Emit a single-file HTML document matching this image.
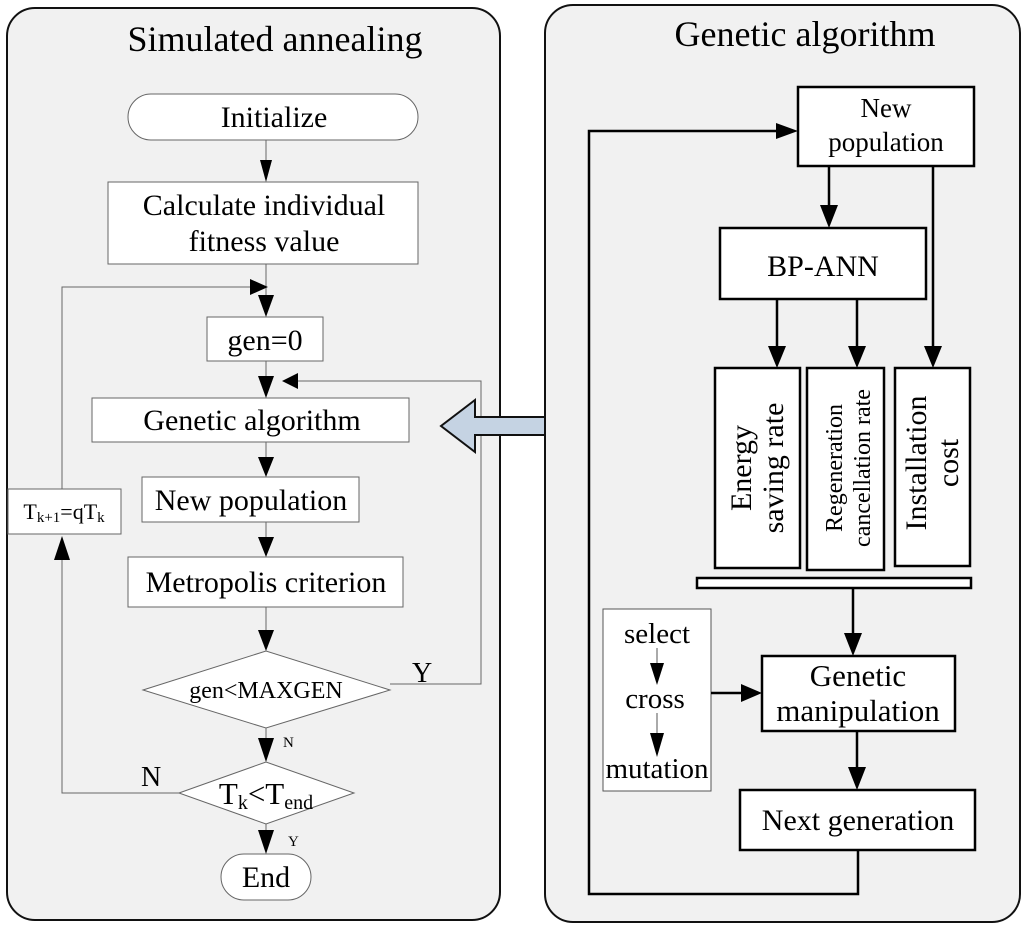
<!DOCTYPE html>
<html><head><meta charset="utf-8"><style>
html,body{margin:0;padding:0;background:#fff;}
svg{display:block;}
text{font-family:"Liberation Serif",serif;fill:#000;}
</style></head><body>
<svg width="1024" height="928" viewBox="0 0 1024 928" xmlns="http://www.w3.org/2000/svg">
<!-- panels -->
<rect x="7" y="8" width="493" height="912" rx="28" fill="#f1f1f1" stroke="#111" stroke-width="2"/>
<rect x="545" y="5" width="475" height="917" rx="28" fill="#f1f1f1" stroke="#111" stroke-width="2"/>
<text x="275" y="51" font-size="36" text-anchor="middle">Simulated annealing</text>
<text x="805" y="46" font-size="36" text-anchor="middle">Genetic algorithm</text>

<!-- LEFT -->
<g stroke="#666" stroke-width="1" fill="#fff">
<rect x="128" y="94" width="290" height="46" rx="23"/>
<rect x="108" y="182" width="310" height="82"/>
<rect x="207" y="317" width="116" height="44"/>
<rect x="92" y="398" width="317" height="44"/>
<rect x="142" y="477" width="217" height="45"/>
<rect x="128" y="557" width="275" height="50"/>
<polygon points="143,690 266,651 390,690 266,728"/>
<polygon points="179,793 266,762 354,793 266,824"/>
<rect x="221" y="854" width="90" height="46" rx="23"/>
<rect x="8" y="489" width="113" height="45"/>
</g>
<g stroke="#666" stroke-width="1" fill="none">
<line x1="266" y1="140" x2="266" y2="160"/>
<line x1="266" y1="264" x2="266" y2="295"/>
<polyline points="62,489 62,287 250,287"/>
<line x1="266" y1="361" x2="266" y2="378"/>
<line x1="266" y1="442" x2="266" y2="458"/>
<line x1="266" y1="522" x2="266" y2="538"/>
<line x1="266" y1="607" x2="266" y2="632"/>
<polyline points="390,684 481,684 481,381 295,381"/>
<line x1="266" y1="728" x2="266" y2="740"/>
<polyline points="179,793 62,793 62,560"/>
<line x1="266" y1="824" x2="266" y2="832"/>
</g>
<g fill="#000">
<polygon points="260,160 272,160 266,182"/>
<polygon points="258,295 274,295 266,317"/>
<polygon points="250,279 250,295 268,287"/>
<polygon points="258,376 274,376 266,398"/>
<polygon points="282,381 298,373 298,389"/>
<polygon points="258,457 274,457 266,477"/>
<polygon points="258,537 274,537 266,557"/>
<polygon points="258,630 274,630 266,651"/>
<polygon points="258,738 274,738 266,762"/>
<polygon points="54,560 70,560 62,536"/>
<polygon points="258,830 274,830 266,854"/>
</g>
<!-- big arrow -->
<polygon points="545,417 475,417 475,400 441,426 475,452 475,435 545,435" fill="#c5d3e3" stroke="#111" stroke-width="2"/>

<g font-size="30" text-anchor="middle">
<text x="274" y="127">Initialize</text>
<text x="264" y="215">Calculate individual</text>
<text x="264" y="251">fitness value</text>
<text x="265" y="350">gen=0</text>
<text x="252" y="430">Genetic algorithm</text>
<text x="251" y="510">New population</text>
<text x="266" y="592">Metropolis criterion</text>
<text x="266" y="887">End</text>
</g>
<text x="266" y="698" font-size="24" text-anchor="middle">gen&lt;MAXGEN</text>
<text x="266" y="804" font-size="31" text-anchor="middle">T<tspan font-size="20" dy="5">k</tspan><tspan dy="-5">&lt;T</tspan><tspan font-size="20" dy="5">end</tspan></text>
<text x="64" y="519" font-size="22" text-anchor="middle">T<tspan font-size="15" dy="3">k+1</tspan><tspan dy="-3">=qT</tspan><tspan font-size="15" dy="3">k</tspan></text>
<text x="412" y="682" font-size="28">Y</text>
<text x="283" y="747" font-size="15">N</text>
<text x="141" y="786" font-size="28">N</text>
<text x="288" y="846" font-size="15">Y</text>

<!-- RIGHT -->
<g stroke="#000" stroke-width="2.5" fill="#fff">
<rect x="798" y="87" width="176" height="79"/>
<rect x="720" y="228" width="206" height="71"/>
<rect x="715" y="368" width="85" height="200"/>
<rect x="807" y="368" width="77" height="202"/>
<rect x="895" y="368" width="75" height="198"/>
<rect x="697" y="578" width="274" height="10"/>
<rect x="762" y="656" width="193" height="75"/>
<rect x="740" y="790" width="235" height="60"/>
</g>
<rect x="603" y="609" width="108" height="182" fill="#fff" stroke="#555" stroke-width="1"/>
<g stroke="#000" stroke-width="2.5" fill="none">
<polyline points="858,850 858,894 589,894 589,131 780,131"/>
<line x1="829" y1="166" x2="829" y2="210"/>
<line x1="933" y1="166" x2="933" y2="350"/>
<line x1="777" y1="299" x2="777" y2="350"/>
<line x1="857" y1="299" x2="857" y2="350"/>
<line x1="853" y1="588" x2="853" y2="636"/>
<line x1="711" y1="693" x2="744" y2="693"/>
<line x1="857" y1="731" x2="857" y2="770"/>
</g>
<line x1="657" y1="648" x2="657" y2="665" stroke="#555" stroke-width="1"/>
<line x1="657" y1="713" x2="657" y2="735" stroke="#555" stroke-width="1"/>
<g fill="#000">
<polygon points="776,123 776,139 798,131"/>
<polygon points="820,205 838,205 829,228"/>
<polygon points="768,346 786,346 777,368"/>
<polygon points="848,346 866,346 857,368"/>
<polygon points="924,346 942,346 933,368"/>
<polygon points="844,633 862,633 853,656"/>
<polygon points="741,684 741,702 762,693"/>
<polygon points="848,767 866,767 857,790"/>
<polygon points="650,663 664,663 657,685"/>
<polygon points="650,733 664,733 657,757"/>
</g>
<g font-size="27" text-anchor="middle">
<text x="886" y="117">New</text>
<text x="886" y="151">population</text>
<text x="823" y="276" font-size="30">BP-ANN</text>
<text x="858" y="686" font-size="31">Genetic</text>
<text x="858" y="721" font-size="31">manipulation</text>
<text x="858" y="830" font-size="30">Next generation</text>
<text x="657" y="643" font-size="29">select</text>
<text x="655" y="708" font-size="29">cross</text>
<text x="657" y="778" font-size="29">mutation</text>
</g>
<g font-size="30" text-anchor="middle">
<text transform="translate(757,468) rotate(-90)"><tspan x="0" y="-6">Energy</tspan><tspan x="0" y="26">saving rate</tspan></text>
<text transform="translate(846,468) rotate(-90)" font-size="24"><tspan x="0" y="-4">Regeneration</tspan><tspan x="0" y="24">cancellation rate</tspan></text>
<text transform="translate(932,463) rotate(-90)"><tspan x="0" y="-6">Installation</tspan><tspan x="0" y="26">cost</tspan></text>
</g>
</svg>
</body></html>
